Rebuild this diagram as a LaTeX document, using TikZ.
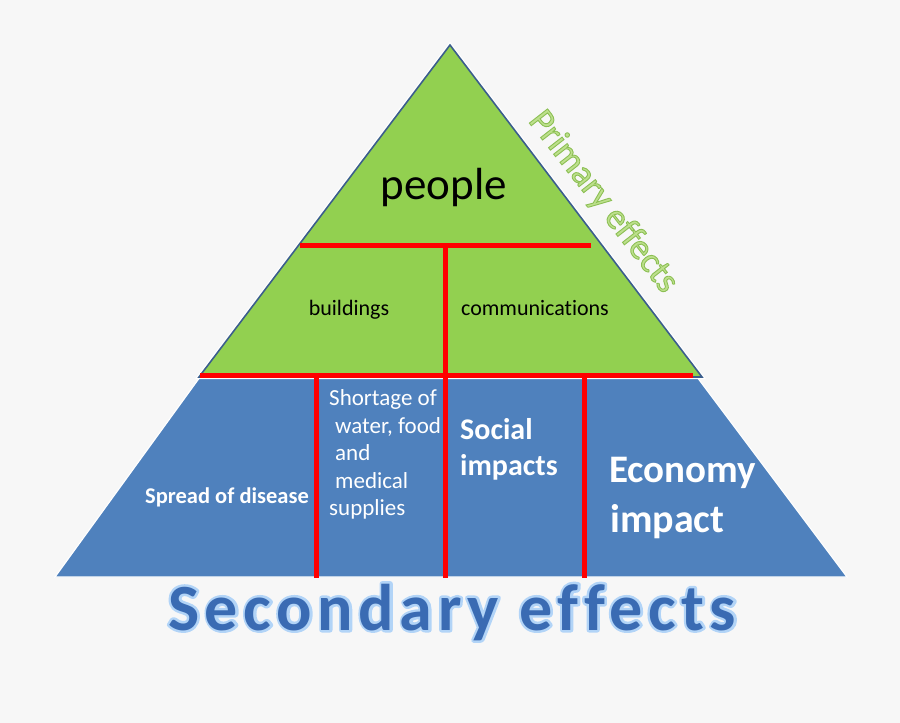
\documentclass[tikz,border=0pt]{standalone}
\usepackage{fontspec}
\usetikzlibrary{calc}
\setmainfont[Ligatures=NoCommon]{Carlito}
\newfontfamily\widecal[LetterSpace=8.5,Ligatures=NoCommon]{Carlito}
\definecolor{bg}{HTML}{F7F7F7}
\definecolor{pgreen}{HTML}{92D050}
\definecolor{pblue}{HTML}{4F81BD}
\definecolor{edgeblue}{HTML}{3B5E8C}
\definecolor{secblue}{HTML}{3A6BB3}
\definecolor{secglow}{HTML}{B3D3F7}
\definecolor{primfill}{HTML}{BDE08C}
% stroke-only text (mode 1) and fill+stroke text (mode 2)
\newcommand\stroketext[3]{\special{pdf:literal direct 1 Tr #2 w 1 J 1 j #1 RG}#3\special{pdf:literal direct 0 Tr}}
\newcommand\outlinetext[3]{\special{pdf:literal direct 2 Tr #2 w #1 RG}#3\special{pdf:literal direct 0 Tr}}
\tikzset{
  redline/.style={draw=red, line width=5pt},
  blacktxt/.style={text=black, inner sep=0pt},
  whitetxt/.style={text=white, inner sep=0pt},
}
\begin{document}
\begin{tikzpicture}[x=1pt,y=-1pt]
\fill[bg] (0,0) rectangle (900,723);
\useasboundingbox (0,0) rectangle (900,723);
% geometry
\coordinate (apex) at (450,45);
\coordinate (gl) at (199,377);
\coordinate (gr) at (702,377);
\coordinate (tl) at (200,377);
\coordinate (tr) at (697,377);
\coordinate (bl) at (55,577);
\coordinate (br) at (847,577);
% blue trapezoid
\filldraw[fill=pblue, draw=white, line width=1.2pt] (tl) -- (tr) -- (br) -- (bl) -- cycle;
% green triangle
\draw[white, line width=4pt, line join=miter] (apex) -- (gr) -- (gl) -- cycle;
\filldraw[fill=pgreen, draw=edgeblue, line width=1.6pt, line join=miter] (apex) -- (gr) -- (gl) -- cycle;
% red dividers
\coordinate (h1a) at (300,245);
\coordinate (h1b) at (591,245);
\coordinate (h1m) at (445,245);
\coordinate (h2a) at (200,375);
\coordinate (h2b) at (693,375);
\coordinate (v1t) at (316,375);
\coordinate (v1b) at (316,578);
\coordinate (v2b) at (445,578);
\coordinate (v3t) at (584,375);
\coordinate (v3b) at (584,578);
\draw[redline] (h1a) -- (h1b);
\draw[redline] (h2a) -- (h2b);
\draw[redline] (h1m) -- (v2b);
\draw[redline] (v1t) -- (v1b);
\draw[redline] (v3t) -- (v3b);
% green texts
\node[blacktxt, anchor=base] (people) at (444,199) {\fontsize{45}{54}\selectfont people};
\node[blacktxt, anchor=base] (buildings) at (349,315) {\fontsize{22}{26}\selectfont buildings};
\node[blacktxt, anchor=base] (comm) at (535,315) {\fontsize{22}{26}\selectfont communications};
% blue texts
\node[whitetxt, anchor=base west] (spread) at (145,503) {\fontsize{22.5}{27}\selectfont\bfseries Spread of disease};
\node[whitetxt, anchor=base west] (sh1) at (329,405) {\fontsize{23}{27}\selectfont Shortage of};
\node[whitetxt, anchor=base west] (sh2) at (335,433) {\fontsize{23}{27}\selectfont water, food};
\node[whitetxt, anchor=base west] (sh3) at (335,460) {\fontsize{23}{27}\selectfont and};
\node[whitetxt, anchor=base west] (sh4) at (335,488) {\fontsize{23}{27}\selectfont medical};
\node[whitetxt, anchor=base west] (sh5) at (329,515) {\fontsize{23}{27}\selectfont supplies};
\node[whitetxt, anchor=base west] (soc1) at (460,439) {\fontsize{30}{36}\selectfont\bfseries Social};
\node[whitetxt, anchor=base west] (soc2) at (460,475) {\fontsize{30}{36}\selectfont\bfseries impacts};
\node[whitetxt, anchor=base west] (eco1) at (609,482) {\fontsize{39}{47}\selectfont\bfseries Economy};
\node[whitetxt, anchor=base west] (eco2) at (610,532) {\fontsize{40}{48}\selectfont\bfseries impact};
% Secondary effects: light glow stroke underneath, solid fill on top
\node[inner sep=0pt, text=secglow, anchor=base west] (secglow) at (168,630)
  {\fontsize{66}{78}\selectfont\widecal\bfseries\stroketext{0.70 0.83 0.97}{5}{Secondary effects}};
\node[inner sep=0pt, text=secblue, anchor=base west] (sec) at (168,630)
  {\fontsize{66}{78}\selectfont\widecal\bfseries Secondary effects};
% Primary effects (outlined)
\node[inner sep=0pt, text=primfill, rotate=-52] (prim) at (603,202)
  {\fontsize{36}{42}\selectfont\outlinetext{0.55 0.75 0.33}{0.9}{Primary effects}};
\end{tikzpicture}
\end{document}
